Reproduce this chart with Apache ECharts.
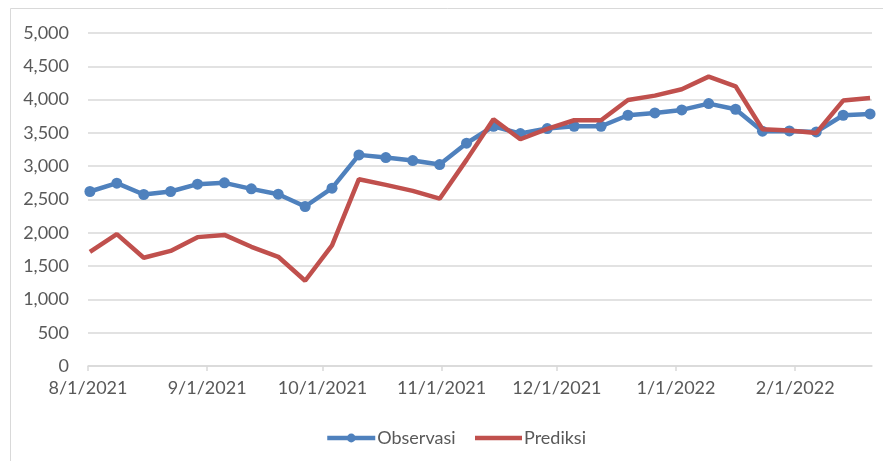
<!DOCTYPE html>
<html>
<head>
<meta charset="utf-8">
<script src="https://cdn.jsdelivr.net/npm/echarts@6/dist/echarts.min.js"></script>
<style>html,body{margin:0;padding:0;background:#fff;}#c{width:883px;height:461px;}</style>
</head>
<body>
<div id="c"></div>
<script>
// Weekly observations starting 2021-08-01 (one value per week)
const startDate = [2021, 8, 1];
const weekCount = 30;
const observasi = [2620, 2745, 2575, 2620, 2730, 2750, 2660, 2580, 2395, 2670,
                   3170, 3130, 3085, 3025, 3345, 3600, 3490, 3565, 3600, 3600,
                   3765, 3800, 3845, 3940, 3855, 3525, 3530, 3515, 3765, 3785];
const prediksi  = [1715, 1980, 1625, 1728, 1935, 1968, 1790, 1640, 1280, 1810,
                   2805, 2720, 2630, 2512, 3095, 3705, 3405, 3560, 3690, 3690,
                   3995, 4060, 4155, 4345, 4200, 3555, 3535, 3498, 3985, 4025];
const yTicks = [0, 500, 1000, 1500, 2000, 2500, 3000, 3500, 4000, 4500, 5000];
const seriesNames = ['Observasi', 'Prediksi'];
const colors = ['#4F81BD', '#C0504D'];

const DAY = 86400000;
const t0 = Date.UTC(startDate[0], startDate[1] - 1, startDate[2]);
// Excel date axis: each date occupies a whole day, the point sits in its middle
const dates = [];
for (let i = 0; i < weekCount; i++) dates.push(t0 + i * 7 * DAY + DAY / 2);
const tMax = t0 + (weekCount - 1) * 7 * DAY + DAY;

const chart = echarts.init(document.getElementById('c'), null, {renderer: 'canvas'});
const font = 'Lato';
const textColor = '#595959';
const legendText = {fontFamily: font, fontSize: 18, color: textColor, padding: [0, 0, 0, -3]};
chart.setOption({
  animation: false,
  useUTC: true,
  backgroundColor: '#ffffff',
  graphic: [{
    type: 'rect', shape: {x: 10.5, y: 8.5, width: 900, height: 500},
    style: {fill: 'none', stroke: '#D9D9D9', lineWidth: 1}, silent: true
  }],
  grid: {left: 88, right: 11, top: 33, bottom: 95, containLabel: false},
  legend: [{
    bottom: 14, left: 325, padding: 0,
    itemWidth: 48, itemHeight: 11,
    lineStyle: {width: 4.5},
    textStyle: legendText,
    data: [seriesNames[0]]
  }, {
    bottom: 14, left: 475, padding: 0,
    itemWidth: 47, itemHeight: 11,
    icon: 'path://M0,3.25 L47,3.25 L47,7.75 L0,7.75 Z',
    textStyle: legendText,
    data: [seriesNames[1]]
  }],
  xAxis: {
    type: 'time',
    min: t0, max: tMax,
    minInterval: 28 * DAY, maxInterval: 31 * DAY,
    axisLine: {show: true, lineStyle: {color: '#D9D9D9', width: 1.5}},
    axisTick: {show: true, length: 5, lineStyle: {color: '#D9D9D9', width: 1.5}},
    splitLine: {show: false},
    axisLabel: {
      fontFamily: font, fontSize: 18, color: textColor, margin: 13,
      showMinLabel: true, showMaxLabel: false, hideOverlap: false,
      formatter: function (v) {
        const d = new Date(v);
        return (d.getUTCMonth() + 1) + '/' + d.getUTCDate() + '/' + d.getUTCFullYear();
      }
    }
  },
  yAxis: {
    type: 'value', min: yTicks[0], max: yTicks[yTicks.length - 1], interval: yTicks[1] - yTicks[0],
    axisLine: {show: false}, axisTick: {show: false},
    splitLine: {lineStyle: {color: '#D9D9D9', width: 1.5}},
    axisLabel: {
      fontFamily: font, fontSize: 18, color: textColor, margin: 19,
      formatter: function (v) { return v.toLocaleString('en-US'); }
    }
  },
  series: [{
    name: seriesNames[0], type: 'line',
    data: dates.map((d, i) => [d, observasi[i]]),
    symbol: 'circle', symbolSize: 11, showSymbol: true,
    lineStyle: {color: colors[0], width: 4.5},
    itemStyle: {color: colors[0]},
    z: 2
  }, {
    name: seriesNames[1], type: 'line',
    data: dates.map((d, i) => [d, prediksi[i]]),
    symbol: 'none',
    lineStyle: {color: colors[1], width: 4.5},
    itemStyle: {color: colors[1]},
    z: 3
  }]
});
</script>
</body>
</html>
